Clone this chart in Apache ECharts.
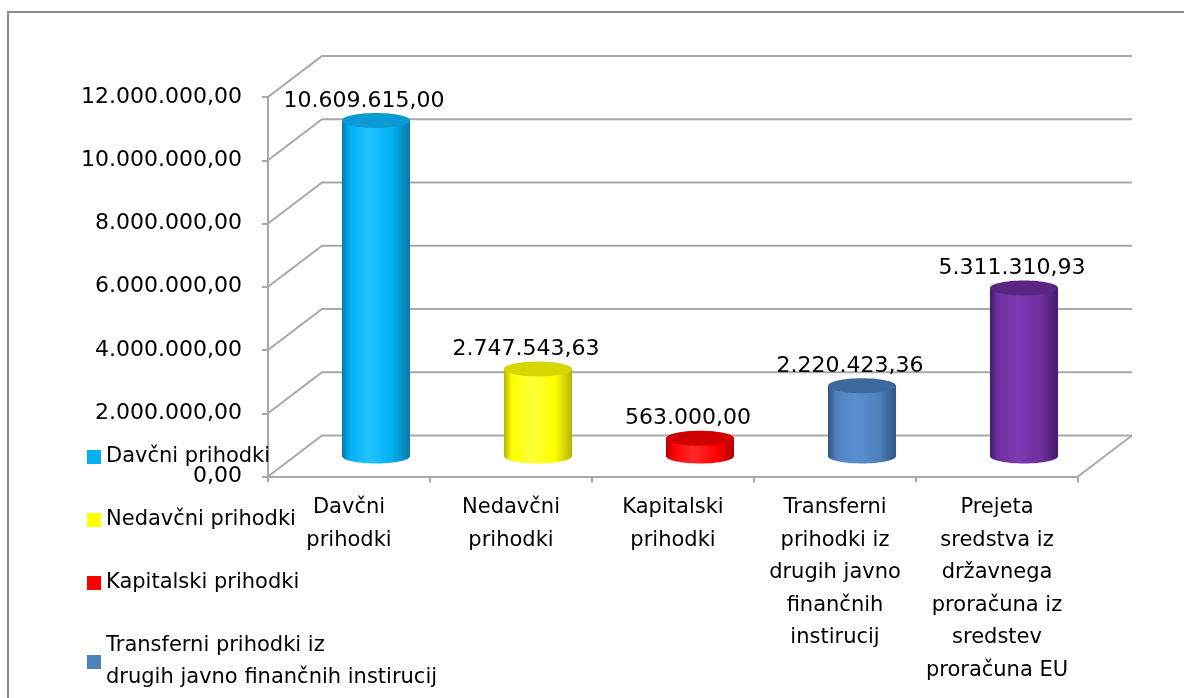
<!DOCTYPE html>
<html>
<head>
<meta charset="utf-8">
<script src="https://cdn.jsdelivr.net/npm/echarts@6/dist/echarts.min.js"></script>
<style>
html,body{margin:0;padding:0;background:#fff;}
#chart{width:1184px;height:698px;}
</style>
</head>
<body>
<div id="chart"></div>
<script>
// ---- data ----
const categories = [
  'Davčni prihodki',
  'Nedavčni prihodki',
  'Kapitalski prihodki',
  'Transferni prihodki iz drugih javno finančnih instirucij',
  'Prejeta sredstva iz državnega proračuna iz sredstev proračuna EU'
];
const axisLabels = [
  'Davčni\nprihodki',
  'Nedavčni\nprihodki',
  'Kapitalski\nprihodki',
  'Transferni\nprihodki iz\ndrugih javno\nfinančnih\ninstirucij',
  'Prejeta\nsredstva iz\ndržavnega\nproračuna iz\nsredstev\nproračuna EU'
];
const legendLabels = [
  'Davčni prihodki',
  'Nedavčni prihodki',
  'Kapitalski prihodki',
  'Transferni prihodki iz\ndrugih javno finančnih instirucij',
  'Prejeta sredstva iz državnega\nproračuna iz sredstev proračuna EU'
];
const values = [10609615.00, 2747543.63, 563000.00, 2220423.36, 5311310.93];
const yMin = 0, yMax = 12000000, yInterval = 2000000;
const yTickValues = [0, 2000000, 4000000, 6000000, 8000000, 10000000, 12000000];

// ---- styles ----
const palette = [
  {base:'#00B0F0', light:'#22C4FF', dark:'#0A78A8', top:'#0A9AD4'},
  {base:'#FFFF00', light:'#FFFF3A', dark:'#B5B500', top:'#D6D600'},
  {base:'#FF0000', light:'#FF2A2A', dark:'#B00000', top:'#D00000'},
  {base:'#4F81BD', light:'#5A8FD0', dark:'#2F5686', top:'#3D6A9E'},
  {base:'#7030A0', light:'#7D38B2', dark:'#47196C', top:'#5A2585'}
];
const DEPTH_X = 54, DEPTH_Y = 41;
const FONT = 'DejaVu Sans';
const lineColor = '#a8a8a8';

function fmtNum(v) {
  const parts = Number(v).toFixed(2).split('.');
  return parts[0].replace(/\B(?=(\d{3})+(?!\d))/g, '.') + ',' + parts[1];
}

function renderWall(params, api) {
  const v = api.value(1);
  const cs = params.coordSys;
  const p = api.coord([0, v]);
  const y = p[1];
  const x0 = cs.x, x1 = cs.x + cs.width;
  const children = [{
    type: 'polyline',
    shape: {points: [[x0, y], [x0 + DEPTH_X, y - DEPTH_Y], [x1 + DEPTH_X, y - DEPTH_Y]]},
    style: {stroke: lineColor, lineWidth: 2, fill: null}
  }];
  if (v === yMin) {
    children.push({
      type: 'line',
      shape: {x1: x1, y1: y, x2: x1 + DEPTH_X, y2: y - DEPTH_Y},
      style: {stroke: lineColor, lineWidth: 2}
    });
  }
  return {type: 'group', silent: true, children: children};
}

function renderCylinder(params, api) {
  const idx = api.value(0), v = api.value(1);
  const base = api.coord([idx, 0]);
  const top = api.coord([idx, v]);
  const bw = api.size([1, 0])[0];
  const w = bw * 0.42, rx = w / 2, ry = 7.5;
  const cx = base[0] + DEPTH_X / 2;
  const yb = base[1] - DEPTH_Y / 2;
  const yt = top[1] - DEPTH_Y / 2;
  const c = palette[idx];
  const grad = () => new echarts.graphic.LinearGradient(0, 0, 1, 0, [
    {offset: 0, color: c.dark},
    {offset: 0.12, color: c.base},
    {offset: 0.4, color: c.light},
    {offset: 0.75, color: c.base},
    {offset: 1, color: c.dark}
  ]);
  return {
    type: 'group',
    children: [
      {type: 'ellipse', shape: {cx: cx, cy: yb, rx: rx, ry: ry}, style: {fill: grad()}},
      {type: 'rect', shape: {x: cx - rx, y: yt, width: w, height: Math.max(0, yb - yt)}, style: {fill: grad()}},
      {type: 'ellipse', shape: {cx: cx, cy: yt, rx: rx, ry: ry}, style: {fill: c.top}},
      {type: 'text', z2: 10, style: {
        text: fmtNum(v), x: cx - 12, y: yt - ry - 12,
        align: 'center', verticalAlign: 'middle',
        fontSize: 22, fontFamily: FONT, fill: '#000'
      }}
    ]
  };
}

const series = [{
  type: 'custom',
  name: '__wall',
  silent: true,
  z: 1,
  renderItem: renderWall,
  encode: {x: 0, y: 1},
  data: yTickValues.map(v => [0, v])
}];
categories.forEach((name, i) => {
  series.push({
    type: 'custom',
    name: name,
    z: 3,
    renderItem: renderCylinder,
    itemStyle: {color: palette[i].base},
    encode: {x: 0, y: 1},
    data: [[i, values[i]]]
  });
});

const chart = echarts.init(document.getElementById('chart'), null, {renderer: 'canvas'});
chart.setOption({
  animation: false,
  backgroundColor: '#ffffff',
  textStyle: {fontFamily: FONT},
  graphic: [{
    type: 'rect', z: 0, silent: true,
    shape: {x: 8, y: 12, width: 1400, height: 900},
    style: {fill: null, stroke: '#8a8a8a', lineWidth: 2}
  }],
  grid: {left: 268, right: 106, top: 97, bottom: 221.5, containLabel: false},
  xAxis: {
    type: 'category',
    data: axisLabels,
    boundaryGap: true,
    axisLine: {show: true, lineStyle: {color: lineColor, width: 2}},
    axisTick: {show: true, length: 6, alignWithLabel: false, lineStyle: {color: lineColor, width: 2}},
    axisLabel: {interval: 0, color: '#000', fontSize: 21, fontFamily: FONT, lineHeight: 32.5, margin: 15, align: 'center'},
    splitLine: {show: false}
  },
  yAxis: {
    type: 'value',
    min: yMin, max: yMax, interval: yInterval,
    axisLine: {show: true, lineStyle: {color: lineColor, width: 2}},
    axisTick: {show: true, length: 6, lineStyle: {color: lineColor, width: 2}},
    axisLabel: {color: '#000', fontSize: 22, fontFamily: FONT, margin: 26, formatter: v => fmtNum(v)},
    splitLine: {show: false}
  },
  legend: {
    orient: 'vertical',
    left: 87, top: 441, height: 600,
    padding: 0,
    itemGap: 31, itemWidth: 14, itemHeight: 14,
    icon: 'rect',
    data: categories,
    formatter: name => legendLabels[categories.indexOf(name)],
    textStyle: {color: '#000', fontSize: 21, fontFamily: FONT, lineHeight: 32}
  },
  series: series
});
</script>
</body>
</html>
